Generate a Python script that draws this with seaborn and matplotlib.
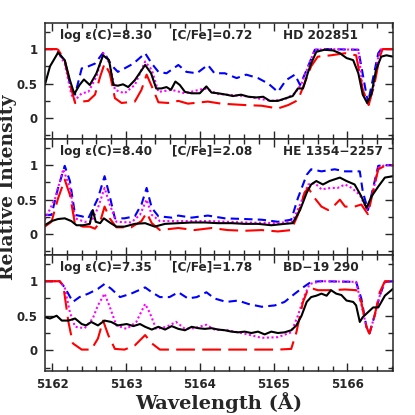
import numpy as np
import pandas as pd
import seaborn as sns
import matplotlib
matplotlib.use("Agg")
import matplotlib.pyplot as plt
from matplotlib.ticker import MultipleLocator, FixedLocator, FixedFormatter

# ---- panel 1 : HD 202851 ----
hd_obs_w = [5161.90, 5161.97, 5162.08, 5162.17, 5162.24, 5162.30, 5162.37, 5162.43, 5162.51, 5162.60,
            5162.69, 5162.77, 5162.83, 5162.89, 5162.96, 5163.03, 5163.12, 5163.26, 5163.34, 5163.41,
            5163.48, 5163.55, 5163.61, 5163.67, 5163.73, 5163.80, 5163.89, 5164.00, 5164.09, 5164.16,
            5164.25, 5164.36, 5164.45, 5164.56, 5164.66, 5164.77, 5164.86, 5164.95, 5165.06, 5165.17,
            5165.26, 5165.33, 5165.40, 5165.47, 5165.51, 5165.58, 5165.69, 5165.81, 5165.90, 5165.99,
            5166.08, 5166.15, 5166.21, 5166.27, 5166.33, 5166.39, 5166.46, 5166.53, 5166.62]
hd_obs = [0.48, 0.75, 0.95, 0.84, 0.55, 0.35, 0.48, 0.56, 0.48, 0.65,
          0.91, 0.84, 0.48, 0.47, 0.49, 0.45, 0.55, 0.77, 0.65, 0.43,
          0.43, 0.45, 0.41, 0.53, 0.48, 0.38, 0.36, 0.36, 0.46, 0.37,
          0.36, 0.34, 0.32, 0.34, 0.31, 0.30, 0.31, 0.25, 0.25, 0.29,
          0.32, 0.43, 0.43, 0.67, 0.79, 0.96, 0.99, 0.98, 0.94, 0.87,
          0.84, 0.65, 0.34, 0.22, 0.36, 0.70, 0.89, 0.91, 0.89]

hd_mag_w = [5161.90, 5162.04, 5162.08, 5162.17, 5162.26, 5162.31, 5162.40, 5162.49, 5162.60, 5162.69,
            5162.78, 5162.85, 5162.98, 5163.12, 5163.26, 5163.35, 5163.44, 5163.62, 5163.80, 5164.07,
            5164.25, 5164.61, 5164.97, 5165.15, 5165.29, 5165.38, 5165.47, 5165.56, 5165.74, 5166.15,
            5166.21, 5166.28, 5166.35, 5166.42, 5166.46, 5166.62]
hd_mag = [1.00, 1.00, 0.95, 0.79, 0.34, 0.26, 0.36, 0.38, 0.60, 0.94,
          0.79, 0.41, 0.36, 0.48, 0.82, 0.70, 0.38, 0.41, 0.36, 0.43,
          0.35, 0.32, 0.25, 0.27, 0.36, 0.50, 0.75, 0.99, 1.00, 0.99,
          0.41, 0.19, 0.41, 0.89, 1.00, 1.00]

hd_blue_w = [5161.90, 5162.04, 5162.08, 5162.17, 5162.26, 5162.31, 5162.40, 5162.49, 5162.58, 5162.70,
             5162.80, 5162.89, 5162.98, 5163.10, 5163.26, 5163.35, 5163.44, 5163.55, 5163.71, 5163.82,
             5163.96, 5164.11, 5164.20, 5164.34, 5164.50, 5164.63, 5164.79, 5164.93, 5165.06, 5165.17,
             5165.29, 5165.36, 5165.45, 5165.56, 5165.74, 5166.15, 5166.28, 5166.42, 5166.46, 5166.62]
hd_blue = [1.00, 1.00, 0.96, 0.82, 0.41, 0.34, 0.72, 0.75, 0.79, 0.96,
           0.77, 0.67, 0.72, 0.79, 0.94, 0.79, 0.67, 0.65, 0.77, 0.67,
           0.65, 0.77, 0.65, 0.65, 0.58, 0.63, 0.58, 0.50, 0.38, 0.55,
           0.63, 0.48, 0.70, 0.99, 1.00, 0.99, 0.22, 0.94, 1.00, 1.00]

hd_red_w = [5161.90, 5162.06, 5162.08, 5162.17, 5162.24, 5162.31, 5162.40, 5162.49, 5162.58, 5162.65,
            5162.71, 5162.78, 5162.85, 5162.94, 5163.12, 5163.21, 5163.28, 5163.35, 5163.44, 5163.57,
            5163.71, 5163.84, 5164.11, 5164.29, 5164.61, 5164.84, 5165.06, 5165.20, 5165.33, 5165.42,
            5165.51, 5165.60, 5165.78, 5165.97, 5166.12, 5166.21, 5166.29, 5166.37, 5166.44, 5166.48,
            5166.62]
hd_red = [1.00, 1.00, 0.99, 0.84, 0.50, 0.22, 0.24, 0.25, 0.34, 0.60,
          0.79, 0.65, 0.29, 0.22, 0.24, 0.41, 0.63, 0.46, 0.23, 0.22,
          0.25, 0.21, 0.24, 0.21, 0.19, 0.18, 0.14, 0.19, 0.26, 0.50,
          0.75, 0.89, 0.91, 0.94, 0.91, 0.41, 0.19, 0.50, 0.89, 1.00,
          1.00]

# ---- panel 2 : HE 1354-2257 ----
he_obs_w = [5161.90, 5161.99, 5162.08, 5162.17, 5162.26, 5162.33, 5162.42, 5162.51, 5162.55, 5162.59,
            5162.65, 5162.70, 5162.78, 5162.87, 5162.98, 5163.12, 5163.26, 5163.39, 5163.53, 5163.71,
            5163.89, 5164.07, 5164.25, 5164.43, 5164.61, 5164.79, 5164.97, 5165.15, 5165.26, 5165.36,
            5165.45, 5165.51, 5165.58, 5165.67, 5165.76, 5165.90, 5165.99, 5166.10, 5166.19, 5166.26,
            5166.33, 5166.42, 5166.51, 5166.62]
he_obs = [0.13, 0.19, 0.22, 0.23, 0.19, 0.13, 0.13, 0.15, 0.35, 0.18,
          0.16, 0.23, 0.17, 0.11, 0.11, 0.15, 0.16, 0.11, 0.15, 0.16,
          0.17, 0.17, 0.16, 0.16, 0.15, 0.15, 0.13, 0.15, 0.16, 0.35,
          0.60, 0.72, 0.77, 0.72, 0.77, 0.82, 0.77, 0.72, 0.55, 0.38,
          0.55, 0.69, 0.82, 0.84]

he_blue_w = [5161.90, 5161.99, 5162.08, 5162.17, 5162.24, 5162.31, 5162.40, 5162.49, 5162.62, 5162.71,
             5162.78, 5162.85, 5162.98, 5163.12, 5163.21, 5163.28, 5163.35, 5163.44, 5163.62, 5163.71,
             5163.89, 5164.11, 5164.34, 5164.61, 5164.84, 5165.06, 5165.24, 5165.33, 5165.45, 5165.51,
             5165.65, 5165.83, 5165.97, 5166.17, 5166.21, 5166.28, 5166.35, 5166.42, 5166.51, 5166.62]
he_blue = [0.28, 0.28, 0.67, 0.99, 0.77, 0.28, 0.26, 0.23, 0.52, 0.84,
           0.55, 0.23, 0.23, 0.26, 0.43, 0.67, 0.38, 0.26, 0.24, 0.27,
           0.24, 0.27, 0.23, 0.22, 0.21, 0.18, 0.21, 0.52, 0.86, 0.94,
           0.91, 0.94, 0.91, 0.91, 0.62, 0.35, 0.67, 0.99, 1.00, 1.00]

he_mag_w = [5161.90, 5162.04, 5162.15, 5162.24, 5162.31, 5162.44, 5162.53, 5162.62, 5162.71, 5162.78,
            5162.87, 5163.07, 5163.19, 5163.28, 5163.35, 5163.46, 5163.71, 5164.16, 5164.61, 5165.06,
            5165.26, 5165.36, 5165.47, 5165.56, 5165.65, 5165.78, 5165.87, 5165.97, 5166.06, 5166.17,
            5166.27, 5166.35, 5166.42, 5166.51, 5166.62]
he_mag = [0.21, 0.52, 0.94, 0.67, 0.23, 0.18, 0.18, 0.38, 0.67, 0.43,
          0.18, 0.17, 0.28, 0.50, 0.28, 0.19, 0.19, 0.19, 0.17, 0.16,
          0.19, 0.43, 0.72, 0.74, 0.65, 0.67, 0.67, 0.72, 0.67, 0.57,
          0.35, 0.62, 0.96, 1.00, 1.00]

he_red_w = [5161.90, 5161.99, 5162.08, 5162.17, 5162.24, 5162.31, 5162.42, 5162.51, 5162.58, 5162.65,
            5162.71, 5162.78, 5162.87, 5163.07, 5163.21, 5163.28, 5163.35, 5163.46, 5163.71, 5163.93,
            5164.16, 5164.38, 5164.61, 5164.84, 5165.06, 5165.24, 5165.33, 5165.42, 5165.47, 5165.56,
            5165.65, 5165.74, 5165.81, 5165.90, 5165.97, 5166.10, 5166.19, 5166.28, 5166.35, 5166.42,
            5166.51, 5166.62]
he_red = [0.11, 0.18, 0.52, 0.79, 0.57, 0.14, 0.11, 0.11, 0.08, 0.18,
          0.40, 0.23, 0.10, 0.10, 0.19, 0.31, 0.16, 0.06, 0.09, 0.06,
          0.09, 0.06, 0.05, 0.06, 0.04, 0.06, 0.28, 0.60, 0.67, 0.52,
          0.40, 0.35, 0.40, 0.50, 0.40, 0.40, 0.43, 0.29, 0.62, 0.94,
          0.99, 1.00]

# ---- panel 3 : BD-19 290 ----
bd_obs_w = [5161.90, 5161.97, 5162.06, 5162.13, 5162.22, 5162.31, 5162.40, 5162.46, 5162.53, 5162.62,
            5162.71, 5162.80, 5162.89, 5163.01, 5163.10, 5163.19, 5163.26, 5163.35, 5163.44, 5163.53,
            5163.62, 5163.71, 5163.80, 5163.89, 5163.98, 5164.07, 5164.16, 5164.25, 5164.34, 5164.43,
            5164.52, 5164.61, 5164.70, 5164.79, 5164.88, 5164.97, 5165.06, 5165.15, 5165.24, 5165.31,
            5165.38, 5165.45, 5165.51, 5165.58, 5165.65, 5165.72, 5165.78, 5165.85, 5165.92, 5165.99,
            5166.08, 5166.12, 5166.17, 5166.21, 5166.28, 5166.35, 5166.42, 5166.51, 5166.62]
bd_obs = [0.48, 0.46, 0.50, 0.43, 0.43, 0.46, 0.38, 0.36, 0.41, 0.36,
          0.43, 0.41, 0.36, 0.38, 0.35, 0.38, 0.34, 0.30, 0.34, 0.30,
          0.35, 0.31, 0.29, 0.34, 0.32, 0.31, 0.32, 0.30, 0.29, 0.27,
          0.26, 0.27, 0.25, 0.27, 0.23, 0.27, 0.25, 0.26, 0.29, 0.36,
          0.50, 0.70, 0.77, 0.79, 0.82, 0.79, 0.87, 0.82, 0.80, 0.72,
          0.70, 0.65, 0.41, 0.48, 0.55, 0.62, 0.62, 0.79, 0.89]

bd_blue_w = [5161.90, 5162.10, 5162.17, 5162.28, 5162.37, 5162.49, 5162.62, 5162.71, 5162.80, 5162.92,
             5163.07, 5163.26, 5163.35, 5163.46, 5163.59, 5163.71, 5163.84, 5163.96, 5164.09, 5164.20,
             5164.36, 5164.52, 5164.66, 5164.84, 5165.02, 5165.15, 5165.29, 5165.40, 5165.51, 5165.65,
             5166.12, 5166.19, 5166.26, 5166.30, 5166.37, 5166.44, 5166.51, 5166.62]
bd_blue = [1.00, 1.00, 0.91, 0.70, 0.77, 0.82, 0.89, 0.96, 0.89, 0.77,
           0.82, 0.91, 0.84, 0.77, 0.77, 0.84, 0.75, 0.77, 0.84, 0.75,
           0.70, 0.72, 0.67, 0.63, 0.65, 0.70, 0.82, 0.91, 0.99, 1.00,
           0.99, 0.75, 0.34, 0.24, 0.50, 0.79, 0.99, 1.00]

bd_mag_w = [5161.90, 5162.10, 5162.17, 5162.24, 5162.31, 5162.44, 5162.55, 5162.62, 5162.71, 5162.78,
            5162.87, 5163.01, 5163.14, 5163.26, 5163.32, 5163.41, 5163.55, 5163.68, 5163.80, 5163.93,
            5164.09, 5164.20, 5164.38, 5164.61, 5164.84, 5165.06, 5165.24, 5165.33, 5165.42, 5165.49,
            5165.65, 5166.12, 5166.26, 5166.30, 5166.37, 5166.44, 5166.51, 5166.62]
bd_mag = [1.00, 1.00, 0.91, 0.55, 0.34, 0.32, 0.46, 0.65, 0.82, 0.63,
          0.36, 0.31, 0.41, 0.67, 0.55, 0.31, 0.34, 0.41, 0.31, 0.32,
          0.37, 0.30, 0.29, 0.24, 0.18, 0.19, 0.26, 0.50, 0.79, 0.96,
          1.00, 0.99, 0.34, 0.24, 0.50, 0.79, 0.99, 1.00]

bd_red_w = [5161.90, 5162.10, 5162.15, 5162.22, 5162.28, 5162.40, 5162.53, 5162.62, 5162.69, 5162.76,
            5162.85, 5162.98, 5163.12, 5163.26, 5163.35, 5163.46, 5163.71, 5164.16, 5164.61, 5165.06,
            5165.24, 5165.31, 5165.40, 5165.47, 5165.54, 5165.60, 5165.78, 5165.97, 5166.12, 5166.19,
            5166.26, 5166.30, 5166.37, 5166.44, 5166.51, 5166.62]
bd_red = [1.00, 1.00, 0.94, 0.41, 0.10, 0.01, 0.01, 0.17, 0.43, 0.22,
          0.02, 0.01, 0.07, 0.22, 0.10, 0.01, 0.01, 0.01, 0.01, 0.01,
          0.02, 0.26, 0.70, 0.89, 0.89, 0.87, 0.87, 0.88, 0.87, 0.70,
          0.34, 0.24, 0.50, 0.84, 1.00, 1.00]

stars = ["HD 202851", "HE 1354\u22122257", "BD\u221219 290"]
log_eps = ["8.30", "8.40", "7.35"]
cfe = ["0.72", "2.08", "1.78"]

panels = [
    (hd_obs_w, hd_obs, hd_blue_w, hd_blue, hd_mag_w, hd_mag, hd_red_w, hd_red),
    (he_obs_w, he_obs, he_blue_w, he_blue, he_mag_w, he_mag, he_red_w, he_red),
    (bd_obs_w, bd_obs, bd_blue_w, bd_blue, bd_mag_w, bd_mag, bd_red_w, bd_red),
]

sns.set_style("ticks")
plt.rcParams['font.family'] = ['DejaVu Sans']
plt.rcParams['font.weight'] = 'bold'

fig, axes = plt.subplots(3, 1, figsize=(4.15, 4.15), dpi=100, sharex=True,
                         gridspec_kw=dict(hspace=0))
fig.subplots_adjust(left=0.108, right=0.947, top=0.945, bottom=0.106)

for i, ax in enumerate(axes):
    ow, o, bw, b, mw, m, rw, r = panels[i]
    sns.lineplot(x=bw, y=b, ax=ax, color="blue", lw=1.5, linestyle=(0, (4, 2.5)), estimator=None)
    sns.lineplot(x=mw, y=m, ax=ax, color="magenta", lw=1.5, linestyle=(0, (1, 1.2)), estimator=None)
    sns.lineplot(x=rw, y=r, ax=ax, color="red", lw=1.5, linestyle=(0, (9, 3.5)), estimator=None)
    sns.lineplot(x=ow, y=o, ax=ax, color="black", lw=1.5, estimator=None)

    ax.set_xlim(5161.90, 5166.62)
    ax.set_ylim(-0.30, 1.38)
    ax.yaxis.set_major_locator(FixedLocator([0, 0.5, 1]))
    ax.yaxis.set_major_formatter(FixedFormatter(["0", "0.5", "1"]))
    ax.yaxis.set_minor_locator(MultipleLocator(0.25))
    ax.xaxis.set_major_locator(MultipleLocator(1))
    ax.xaxis.set_minor_locator(MultipleLocator(0.2))
    ax.tick_params(which="both", direction="in", top=True, right=True, labelsize=8.5, width=1.0)
    ax.tick_params(which="major", length=6, pad=5)
    ax.tick_params(which="minor", length=3.5)
    for s in ax.spines.values():
        s.set_linewidth(1.1)
    ax.set_ylabel("")
    for lab in ax.get_yticklabels() + ax.get_xticklabels():
        lab.set_fontweight("bold")

    ax.text(0.043, 0.895, "log \u03b5(C)=" + log_eps[i], transform=ax.transAxes,
            fontsize=8.7, fontweight="bold", va="center")
    ax.text(0.365, 0.895, "[C/Fe]=" + cfe[i], transform=ax.transAxes,
            fontsize=8.7, fontweight="bold", va="center")
    ax.text(0.684, 0.895, stars[i], transform=ax.transAxes,
            fontsize=8.7, fontweight="bold", va="center")

axes[-1].set_xticks([5162, 5163, 5164, 5165, 5166])
axes[-1].set_xticklabels(["5162", "5163", "5164", "5165", "5166"], fontweight="bold")
axes[-1].set_xlabel("Wavelength (\u00c5)", fontsize=14, fontweight="bold", family="DejaVu Serif",
                    labelpad=1)
fig.text(0.02, 0.55, "Relative Intensity", rotation=90, fontsize=13.5, fontweight="bold",
         family="DejaVu Serif", ha="center", va="center")

fig.savefig("out.png", dpi=100)
